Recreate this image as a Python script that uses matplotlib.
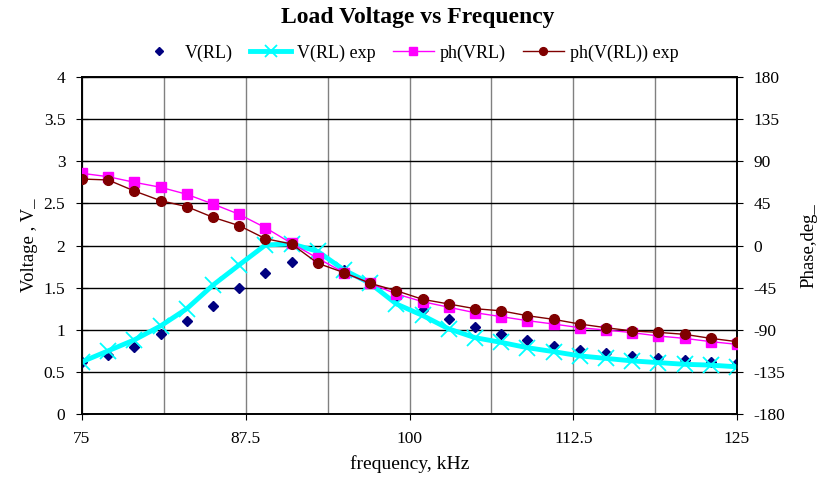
import matplotlib
matplotlib.use("Agg")
import matplotlib.pyplot as plt
from matplotlib.ticker import MultipleLocator

freq = [75, 77, 79, 81, 83, 85, 87, 89, 91, 93, 95, 97, 99, 101, 103, 105,
        107, 109, 111, 113, 115, 117, 119, 121, 123, 125]
v_rl = [0.62, 0.70, 0.80, 0.95, 1.10, 1.28, 1.49, 1.67, 1.80, 1.86, 1.71, 1.55, 1.385,
        1.24, 1.13, 1.03, 0.946, 0.875, 0.81, 0.76, 0.72, 0.69, 0.665, 0.64, 0.62, 0.60]
v_rl_exp = [0.62, 0.75, 0.88, 1.045, 1.25, 1.53, 1.77, 2.006, 2.02, 1.93, 1.71, 1.55,
            1.306, 1.17, 1.01, 0.906, 0.85, 0.787, 0.74, 0.69, 0.66, 0.63, 0.61, 0.59,
            0.58, 0.56]
ph_vrl = [77.1, 73.5, 67.5, 62.2, 54.7, 44.3, 33.3, 19.0, 2.3, -13.7, -29.0, -40.4,
          -51.8, -60.0, -66.0, -71.8, -76.0, -80.3, -83.9, -87.8, -90.3, -93.1, -96.7,
          -99.2, -102.7, -105.6]
ph_vrl_exp = [71.0, 70.0, 58.2, 47.9, 41.5, 30.1, 21.2, 7.3, 1.6, -19.0, -29.0, -40.4,
              -48.3, -57.5, -62.5, -67.5, -69.8, -75.0, -78.9, -83.9, -87.8, -91.3,
              -92.8, -94.9, -99.2, -102.7]

xticks = [75, 87.5, 100, 112.5, 125]
xticklabels = ['75', '87.5', '100', '112.5', '125']
yticks = [0, 0.5, 1, 1.5, 2, 2.5, 3, 3.5, 4]
yticklabels = ['0', '0.5', '1', '1.5', '2', '2.5', '3', '3.5', '4']
phticks = [-180, -135, -90, -45, 0, 45, 90, 135, 180]

plt.rcParams['font.family'] = ['Liberation Serif', 'DejaVu Serif']
plt.rcParams['axes.unicode_minus'] = False

fig = plt.figure(figsize=(8.19, 4.78), dpi=100)
ax = fig.add_axes([82/819, 1 - 414/478, (737-82)/819, (414-77)/478])
ax2 = ax.twinx()

ax.set_xlim(75, 125)
ax.set_ylim(0, 4)
ax2.set_ylim(-180, 180)

ax.set_xticks(xticks)
ax.set_xticklabels(xticklabels)
ax.xaxis.set_minor_locator(MultipleLocator(6.25))
ax.set_yticks(yticks)
ax.set_yticklabels(yticklabels)
ax2.set_yticks(phticks)

ax.grid(True, which='major', axis='y', color='black', linewidth=1)
ax.grid(True, which='both', axis='x', color='#808080', linewidth=1)
ax.tick_params(axis='x', which='minor', length=0)
ax.tick_params(axis='x', which='major', labelsize=12.5, direction='out', length=4,
               color='black', pad=8)
ax.tick_params(axis='y', which='major', labelsize=12.5, direction='inout', length=8,
               color='black', pad=8)
ax2.tick_params(axis='y', labelsize=12.5, direction='inout', length=8, pad=8)
ax.set_axisbelow(True)

for a in (ax, ax2):
    for s in a.spines.values():
        s.set_color('black')
        s.set_linewidth(1.2)

h1, = ax.plot(freq, v_rl, linestyle='none', marker='D', markersize=5.5,
              color='#000080', label='V(RL)', zorder=3)
h2, = ax.plot(freq, v_rl_exp, color='#00FFFF', linewidth=3.5, marker='x',
              markersize=11, markeredgewidth=1.3, label='V(RL) exp', zorder=4)
h3, = ax2.plot(freq, ph_vrl, color='#FF00FF', linewidth=1, marker='s',
               markersize=7, label='ph(VRL)', zorder=3)
h4, = ax2.plot(freq, ph_vrl_exp, color='#800000', linewidth=1, marker='o',
               markersize=7, label='ph(V(RL)) exp', zorder=4)

ax.set_xlabel('frequency, kHz', fontsize=14, labelpad=6)
ax.set_ylabel('Voltage , V_', fontsize=13.5, labelpad=4)
ax2.set_ylabel('Phase,deg_', fontsize=13.5, labelpad=11)

fig.suptitle('Load Voltage vs Frequency', fontsize=17, fontweight='bold',
             x=418/819, y=1 - 17/478, va='center')
fig.legend(handles=[h1, h2, h3, h4], loc='center', bbox_to_anchor=(408/819, 1 - 53/478),
           ncol=4, frameon=False, fontsize=13, handlelength=2.3, columnspacing=0.95,
           handletextpad=0.3, markerscale=0.8)

fig.savefig('out.png', dpi=100)
